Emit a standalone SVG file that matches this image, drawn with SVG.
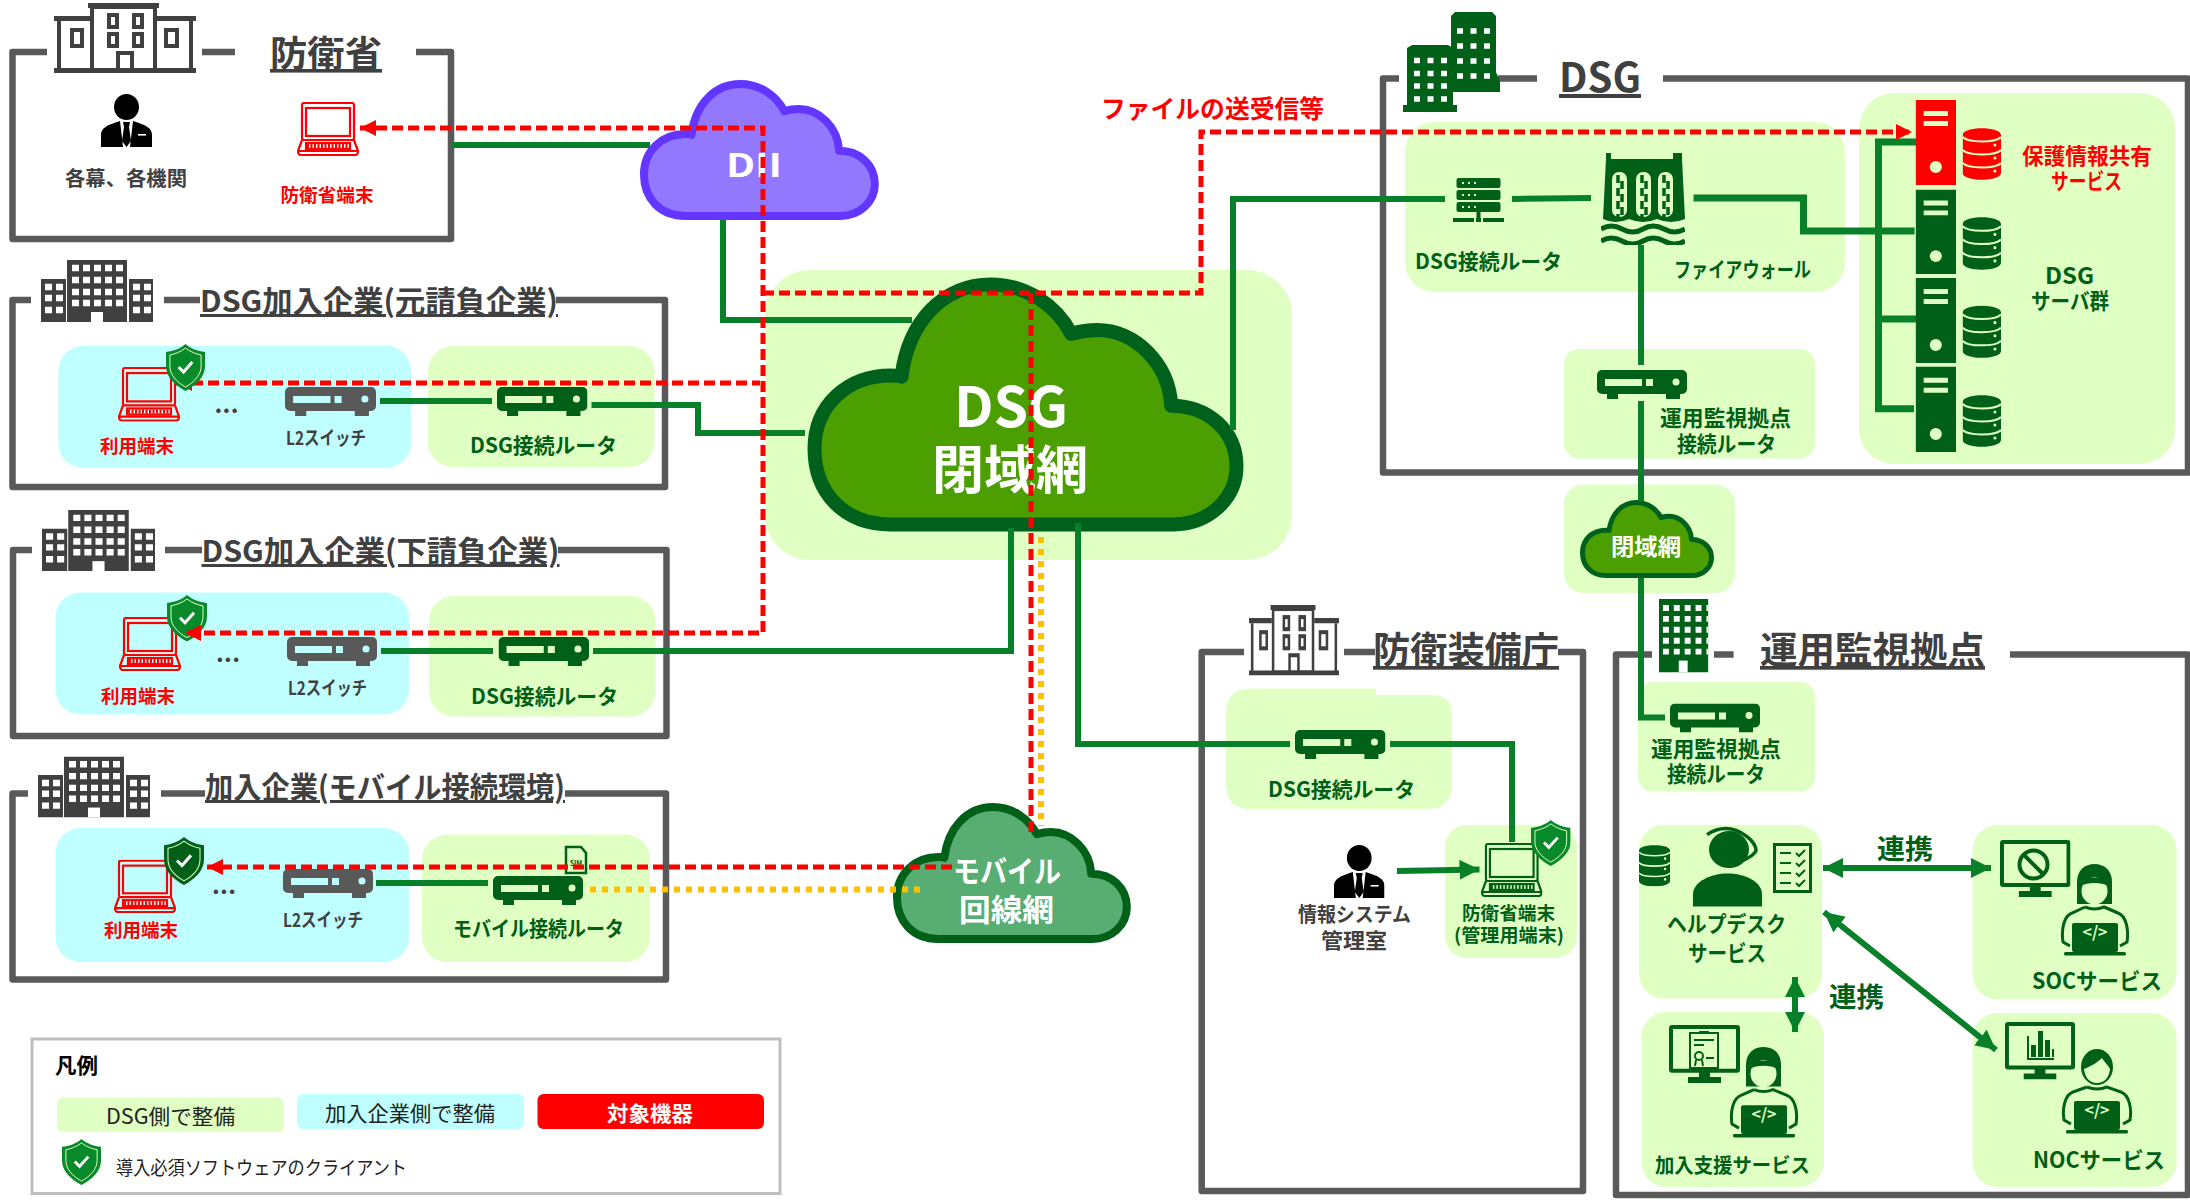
<svg xmlns="http://www.w3.org/2000/svg" width="2190" height="1200" viewBox="0 0 2190 1200">
<style>
text{font-family:"Noto Sans CJK JP","Noto Sans",sans-serif;font-weight:700;text-anchor:middle}
.g{fill:#006018}.r{fill:#f00}.k{fill:#404040}.w{fill:#fff}.n{fill:#222;font-weight:400}.b{fill:#000}
.u{text-decoration:underline;fill:#404040}
.frame{fill:none;stroke:#595959;stroke-width:6.5;stroke-linejoin:round}
.lg{fill:#E0FFC2}.cy{fill:#BFFFFF}
.gl{fill:none;stroke:#08802A;stroke-width:6}
.rd{fill:none;stroke:#f00;stroke-width:5;stroke-dasharray:11 5}
.yd{fill:none;stroke:#FFC000;stroke-width:6;stroke-dasharray:6 6}
.dk{color:#006018}.gy{color:#595959}.rc{color:#f00}.kc{color:#000}
.code{fill:#E0FFC2;font-size:15}
</style>
<defs>
<path id="cloud" vector-effect="non-scaling-stroke" stroke-linejoin="round" d="M19,97C8,97 1.5,84 1.5,67C1.5,50 9,38 19,38C20,38 21,38 21.5,38.5C23,17 31,2 42,2C50,2 57,10 60.5,21.5C62.5,20.5 64.5,20 66.5,20C75,20 83,33 83.5,50C92,50 98.5,60 98.5,74C98.5,87 92,97 84,97Z"/>
<marker id="ar" markerUnits="userSpaceOnUse" markerWidth="16" markerHeight="16" refX="16" refY="8" orient="auto-start-reverse"><path d="M0,0L16,8L0,16Z" fill="#f00"/></marker>
<marker id="ag" markerUnits="userSpaceOnUse" markerWidth="20" markerHeight="20" refX="20" refY="10" orient="auto-start-reverse"><path d="M0,0L20,10L0,20Z" fill="#08802A"/></marker>
<symbol id="router" viewBox="0 0 90 29" preserveAspectRatio="none"><path fill="currentColor" fill-rule="evenodd" d="M5,0H85a5,5 0 0 1 5,5V19a5,5 0 0 1-5,5H83V29H69V24H21V29H10V24H5a5,5 0 0 1-5-5V5a5,5 0 0 1 5-5ZM8,9V16H45V9ZM49,9V16H56V9ZM75.5,12a3.5,3.5 0 0 0 7,0a3.5,3.5 0 0 0-7,0Z"/></symbol>
<symbol id="laptop" viewBox="0 0 62 54" preserveAspectRatio="none"><g fill="none" stroke="currentColor" stroke-width="2.200"><rect x="5" y="1" width="52" height="37" rx="2"/><rect x="9" y="6" width="44" height="28"/><path d="M5,38L1,49Q1,53 4,53H58Q61,53 61,49L57,38"/><path d="M1,49H61"/><rect x="9" y="41" width="44" height="6"/></g><path d="M10,44H52" stroke="currentColor" stroke-width="4" stroke-dasharray="2 1.5"/></symbol>
<symbol id="shield" viewBox="0 0 40 47" preserveAspectRatio="none"><path fill="currentColor" d="M20,0C26,5 32,7 40,8V22C40,33 31,41 20,47C9,41 0,33 0,22V8C8,7 14,5 20,0Z"/><path fill="none" stroke="#E0FFC2" stroke-width="1" d="M20,4C25,8 31,10 36,11V22C36,31 29,38 20,43C11,38 4,31 4,22V11C9,10 15,8 20,4Z"/><path fill="none" stroke="#fff" stroke-width="3" d="M13,23L18,28L27,18"/></symbol>
<symbol id="person" viewBox="0 0 51 53" preserveAspectRatio="none"><ellipse cx="25.5" cy="13" rx="12.5" ry="13" fill="currentColor"/><path fill="currentColor" d="M0,53V41C0,34 6,31 19,27L22,53ZM51,53V41C51,34 45,31 32,27L29,53ZM22,28H29L28,33L30,47L25.5,53L21,47L23,33Z"/><rect x="37" y="40" width="8" height="1.6" fill="#fff"/></symbol>
<symbol id="db" viewBox="0 0 38 52" preserveAspectRatio="none"><path fill="currentColor" d="M0,7C0,-2 38,-2 38,7V45C38,54 0,54 0,45Z"/><path fill="none" stroke="#E0FFC2" stroke-width="2" d="M0,9C5,15 33,15 38,9M0,22C5,28 33,28 38,22M0,35C5,41 33,41 38,35"/><path d="M32,17v.1M32,30v.1M32,43v.1" stroke="#E0FFC2" stroke-width="3" stroke-linecap="round"/></symbol>
<symbol id="server" viewBox="0 0 40 85" preserveAspectRatio="none"><path fill="currentColor" fill-rule="evenodd" d="M0,0H40V85H0ZM8,11V16H32V11ZM8,21V26H32V21ZM14,67a6,6 0 0 0 12,0a6,6 0 0 0-12,0Z"/></symbol>
<symbol id="bldgO" viewBox="0 0 142 70" preserveAspectRatio="none"><g fill="none" stroke="#404040" stroke-width="4"><rect x="38" y="4" width="63" height="63"/><path d="M5,18V67M137,18V67"/><rect x="18" y="27" width="10" height="16"/><rect x="112" y="27" width="11" height="16"/><rect x="55" y="12" width="8" height="12"/><rect x="80" y="12" width="8" height="12"/><rect x="55" y="31" width="8" height="12"/><rect x="80" y="31" width="8" height="12"/><path d="M64,66V50H78V66"/></g><path fill="#404040" d="M0,65H142V70H0ZM34,0H105V5H34ZM0,13H36V18H0ZM103,13H142V18H103Z"/></symbol>
<symbol id="bldgS" viewBox="0 0 112 62" preserveAspectRatio="none"><path fill="#404040" d="M26,0H86V62H26ZM0,19H25V62H0ZM88,19H112V62H88Z"/><path stroke="#fff" stroke-width="6.5" stroke-dasharray="7 4" d="M31,8H86M31,20H86M31,32H86M31,43H86M4,27H25M4,38H25M4,50H25M92,27H112M92,38H112M92,50H112"/><rect x="50" y="52" width="12" height="10" fill="#fff"/></symbol>
<symbol id="towers" viewBox="0 0 97 100" preserveAspectRatio="none"><path fill="#006018" d="M48,4L52,0H89L93,4V60L97,70V80H48Z"/><path fill="#fff" d="M46,33H54V100H46Z" opacity="0"/><path fill="#006018" d="M4,36L9,33H45L50,36V93H54V100H0V93H4Z"/><path fill="none" stroke="#fff" stroke-width="5.500" stroke-dasharray="6 7.500" d="M54,19H92M54,34H92M54,49H92M54,64H92M11,48.500H46M11,61.500H46M11,74H46M11,87H46"/></symbol>
<symbol id="tower" viewBox="0 0 50 74" preserveAspectRatio="none"><rect width="50" height="74" fill="#006018"/><path stroke="#fff" stroke-width="6" stroke-dasharray="6 5" d="M4,9H50M4,20H50M4,31H50M4,42H50M4,53H50"/><rect x="20" y="62" width="9" height="12" fill="#fff"/></symbol>
<symbol id="fw" viewBox="0 0 84 92" preserveAspectRatio="none"><path fill="#006018" d="M2,66L5,6V0H10V6H72V0H81V6L84,66Q70,72 56,66Q42,72 28,66Q14,72 2,66Z"/><g fill="#E0FFC2"><rect x="11" y="19" width="15" height="45" rx="7"/><rect x="35" y="19" width="15" height="45" rx="7"/><rect x="57" y="19" width="15" height="45" rx="7"/></g><path stroke="#006018" stroke-width="3.5" stroke-dasharray="8 5" d="M17,22V64M21,28V64M41,22V64M45,28V64M63,22V64M67,28V64"/><path fill="none" stroke="#006018" stroke-width="5" d="M0,76Q10,70 21,76T42,76T63,76T84,76M0,88Q10,82 21,88T42,88T63,88T84,88"/></symbol>
<symbol id="rack" viewBox="0 0 51 44" preserveAspectRatio="none"><g fill="#006018"><rect x="3.5" y="0" width="44" height="10" rx="2"/><rect x="3.5" y="12" width="44" height="10" rx="2"/><rect x="3.5" y="24" width="44" height="10" rx="2"/><rect x="23.500" y="34" width="4" height="7"/><rect x="0" y="40" width="21" height="4"/><rect x="30" y="40" width="21" height="4"/><rect x="23" y="40" width="5" height="4"/></g><path stroke="#E0FFC2" stroke-width="2" stroke-dasharray="2 4" d="M9,5H24M9,17H24M9,29H24"/></symbol>
<symbol id="monitor" viewBox="0 0 71 57" preserveAspectRatio="none"><rect x="2" y="2" width="67" height="43" rx="1" fill="none" stroke="#006018" stroke-width="4"/><path fill="#006018" d="M30,46H41V51H52V57H19V51H30Z"/></symbol>
<symbol id="coderF" viewBox="0 0 70 92" preserveAspectRatio="none"><path fill="#006018" d="M17,40V18C17,6 25,0 34.500,0C44,0 52,6 52,18V40Z"/><ellipse cx="34.500" cy="27" rx="13" ry="13.500" fill="#E0FFC2"/><path fill="#006018" d="M21,22C27,18 42,18 48,22V14H21Z"/><path fill="none" stroke="#006018" stroke-width="3" d="M25,43Q34.500,47 44,43L58,49C66,52 69,65 67,78L60,82M25,43L12,49C4,52 1,65 3,78L10,82"/><rect x="12" y="59" width="46" height="29" rx="2" fill="#006018"/><rect x="4" y="88" width="62" height="3.500" rx="1.500" fill="#006018"/></symbol>
<symbol id="coderM" viewBox="0 0 72 89" preserveAspectRatio="none"><ellipse cx="36" cy="22" rx="16" ry="18" fill="#006018"/><path fill="#E0FFC2" d="M23,24C28,22 36,18 41,13C44,18 47,20 49,24C48,33 43,38 36,38C29,38 24,33 23,24Z"/><path fill="none" stroke="#006018" stroke-width="3" d="M26,42Q36,46 46,42L60,47C68,50 71,63 69,75L62,79M26,42L12,47C4,50 1,63 3,75L10,79"/><rect x="13" y="56" width="46" height="29" rx="2" fill="#006018"/><rect x="5" y="85" width="62" height="3.500" rx="1.500" fill="#006018"/></symbol>
</defs>

<rect width="2190" height="1200" fill="#fff"/>

<g id="n-mod">
<path class="frame" d="M47,52H12.500V239H451V52H416M202,52H235"/>
<use href="#bldgO" x="54" y="3" width="142" height="70"/>
<text class="u" x="326" y="67" font-size="36" textLength="112" lengthAdjust="spacingAndGlyphs">防衛省</text>
<use href="#person" class="kc" x="101" y="94" width="51" height="53"/>
<text class="k" x="126" y="186" font-size="20" textLength="122" lengthAdjust="spacingAndGlyphs">各幕、各機関</text>
<use href="#laptop" class="rc" x="297" y="102" width="62" height="54"/>
<text class="r" x="327" y="202" font-size="18.500" textLength="93" lengthAdjust="spacingAndGlyphs">防衛省端末</text>
</g>

<g id="n-prime">
<path class="frame" d="M31,300H12.500V487H665V300H556M164,300H200"/>
<use href="#bldgS" x="41" y="260" width="112" height="62"/>
<text class="u" x="379" y="312" font-size="30" textLength="358" lengthAdjust="spacingAndGlyphs">DSG加入企業(元請負企業)</text>
<rect class="cy" x="58.500" y="345.700" width="352.500" height="122.300" rx="25"/>
<rect class="lg" x="428" y="346" width="226.500" height="121" rx="25"/>
<use href="#laptop" class="rc" x="118" y="367" width="62" height="54.600"/>
<text class="k" x="226.500" y="413" font-size="24" textLength="24" lengthAdjust="spacing">...</text>
<use href="#router" class="gy" x="285" y="387" width="91" height="29"/>
<use href="#router" class="dk" x="497" y="387" width="90.500" height="29"/>
<text class="r" x="137" y="453" font-size="18.500" textLength="74" lengthAdjust="spacingAndGlyphs">利用端末</text>
<text class="k" x="326" y="445" font-size="19" textLength="80" lengthAdjust="spacingAndGlyphs">L2スイッチ</text>
<text class="g" x="543.500" y="453" font-size="21" textLength="147" lengthAdjust="spacingAndGlyphs">DSG接続ルータ</text>
</g>

<g id="n-sub">
<path class="frame" d="M32,550H13V736H666.500V550H558M165,550H202"/>
<use href="#bldgS" x="42" y="510" width="113" height="61"/>
<text class="u" x="380.500" y="562" font-size="30" textLength="358" lengthAdjust="spacingAndGlyphs">DSG加入企業(下請負企業)</text>
<rect class="cy" x="55.500" y="592.500" width="353.500" height="122" rx="25"/>
<rect class="lg" x="429" y="596" width="226.500" height="120.500" rx="25"/>
<use href="#laptop" class="rc" x="119" y="617" width="62" height="54"/>
<use href="#shield" color="#088A2B" x="167" y="595" width="40" height="46.600"/>
<text class="k" x="228" y="662" font-size="24" textLength="24" lengthAdjust="spacing">...</text>
<use href="#router" class="gy" x="287" y="637" width="90" height="29"/>
<use href="#router" class="dk" x="498.500" y="637" width="90.500" height="29"/>
<text class="r" x="138" y="703" font-size="18.500" textLength="74" lengthAdjust="spacingAndGlyphs">利用端末</text>
<text class="k" x="327.500" y="695" font-size="19" textLength="79" lengthAdjust="spacingAndGlyphs">L2スイッチ</text>
<text class="g" x="544.500" y="704" font-size="21" textLength="147" lengthAdjust="spacingAndGlyphs">DSG接続ルータ</text>
</g>

<g id="n-mobile-co">
<path class="frame" d="M28,793.600H12.500V979.500H666V793.600H565M161,793.600H205"/>
<use href="#bldgS" x="38" y="756.400" width="112" height="61"/>
<text class="u" x="385" y="798" font-size="30" textLength="360" lengthAdjust="spacingAndGlyphs">加入企業(モバイル接続環境)</text>
<rect class="cy" x="55.500" y="828" width="353.500" height="134" rx="25"/>
<rect class="lg" x="422" y="834.500" width="228" height="127.500" rx="25"/>
<use href="#laptop" class="rc" x="114" y="859.700" width="62" height="53.300"/>
<use href="#shield" class="dk" x="164" y="837" width="40" height="48"/>
<text class="k" x="224" y="894" font-size="24" textLength="24" lengthAdjust="spacing">...</text>
<use href="#router" class="gy" x="283" y="869" width="90" height="29"/>
<use href="#router" class="dk" x="493" y="876" width="90" height="29"/>
<path d="M566,847H581L586,853V873H566Z" fill="none" stroke="#006018" stroke-width="2.500"/>
<text class="g" x="576" y="866" font-size="7" font-weight="400">SIM</text>
<text class="r" x="141" y="937" font-size="18.500" textLength="74" lengthAdjust="spacingAndGlyphs">利用端末</text>
<text class="k" x="323" y="927" font-size="19" textLength="80" lengthAdjust="spacingAndGlyphs">L2スイッチ</text>
<text class="g" x="538.500" y="936" font-size="21" textLength="171" lengthAdjust="spacingAndGlyphs">モバイル接続ルータ</text>
</g>

<g id="n-legend">
<rect x="32" y="1039" width="748" height="154.500" fill="none" stroke="#BFBFBF" stroke-width="3"/>
<text class="b" x="76.500" y="1073" font-size="21" textLength="43" lengthAdjust="spacingAndGlyphs">凡例</text>
<rect class="lg" x="57" y="1097.500" width="227" height="34.500" rx="6"/>
<text class="n" x="170.500" y="1124" font-size="21" textLength="129" lengthAdjust="spacingAndGlyphs">DSG側で整備</text>
<rect class="cy" x="297" y="1094" width="227" height="35" rx="6"/>
<text class="n" x="410" y="1121" font-size="21" textLength="170" lengthAdjust="spacingAndGlyphs">加入企業側で整備</text>
<rect class="r" x="537.500" y="1094" width="226.500" height="35" rx="6"/>
<text class="w" x="650" y="1121" font-size="21" textLength="86" lengthAdjust="spacingAndGlyphs">対象機器</text>
<use href="#shield" color="#088A2B" x="62" y="1139" width="39" height="46"/>
<text class="n" x="261.500" y="1175" font-size="19" textLength="291" lengthAdjust="spacingAndGlyphs">導入必須ソフトウェアのクライアント</text>
</g>

<g id="n-dii">
<use href="#cloud" transform="translate(640.400,81.200) scale(2.38,1.39)" fill="#9278FF" stroke="#6236FF" stroke-width="8"/>
<text class="w" x="754" y="177" font-size="32" textLength="56" lengthAdjust="spacingAndGlyphs">DII</text>
</g>

<g id="n-dsgnet">
<rect class="lg" x="765" y="270" width="527" height="290" rx="45"/>
<use href="#cloud" transform="translate(808,279.400) scale(4.35,2.526)" fill="#4C9F00" stroke="#00611C" stroke-width="14"/>
<text class="w" x="1011" y="427" font-size="56" textLength="114" lengthAdjust="spacingAndGlyphs">DSG</text>
<text class="w" x="1010" y="489" font-size="52" textLength="156" lengthAdjust="spacingAndGlyphs">閉域網</text>
</g>

<g id="n-dsg">
<path class="frame" d="M1399,78.500H1383V472.600H2188V78.500H1663M1498,78.500H1537"/>
<use href="#towers" x="1403" y="12" width="97" height="100"/>
<text class="u" x="1600" y="92" font-size="40" textLength="82" lengthAdjust="spacingAndGlyphs">DSG</text>
<rect class="lg" x="1405" y="122" width="440" height="170" rx="30"/>
<use href="#rack" x="1453" y="178" width="51" height="44"/>
<use href="#fw" x="1601" y="153" width="84" height="92"/>
<text class="g" x="1488.500" y="269" font-size="21" textLength="147" lengthAdjust="spacingAndGlyphs">DSG接続ルータ</text>
<text class="g" x="1742.500" y="277" font-size="21" textLength="137" lengthAdjust="spacingAndGlyphs">ファイアウォール</text>
<rect class="lg" x="1564" y="349" width="251" height="109.500" rx="15"/>
<use href="#router" class="dk" x="1597" y="370" width="90" height="29"/>
<text class="g" x="1725.500" y="426" font-size="21.500" textLength="131" lengthAdjust="spacingAndGlyphs">運用監視拠点</text>
<text class="g" x="1726.500" y="452" font-size="21.500" textLength="99" lengthAdjust="spacingAndGlyphs">接続ルータ</text>
<rect class="lg" x="1859" y="93" width="316" height="371" rx="35"/>
<use href="#server" class="rc" x="1915.600" y="100" width="40.400" height="85"/>
<use href="#server" class="dk" x="1915.600" y="189.500" width="40.400" height="84.500"/>
<use href="#server" class="dk" x="1915.600" y="278" width="40.400" height="85"/>
<use href="#server" class="dk" x="1915.600" y="366.600" width="40.400" height="85.400"/>
<use href="#db" class="rc" x="1962.600" y="128" width="38.400" height="52"/>
<use href="#db" class="dk" x="1962.600" y="217" width="38.400" height="53"/>
<use href="#db" class="dk" x="1962.600" y="305.400" width="38.400" height="52.600"/>
<use href="#db" class="dk" x="1962.600" y="395" width="38.400" height="52"/>
<text class="r" x="2087" y="164" font-size="21.500" textLength="130" lengthAdjust="spacingAndGlyphs">保護情報共有</text>
<text class="r" x="2086.500" y="189" font-size="21.500" textLength="71" lengthAdjust="spacingAndGlyphs">サービス</text>
<text class="g" x="2069.500" y="284" font-size="23" textLength="49" lengthAdjust="spacingAndGlyphs">DSG</text>
<text class="g" x="2070" y="309" font-size="21.500" textLength="78" lengthAdjust="spacingAndGlyphs">サーバ群</text>
</g>

<g id="n-closed">
<rect class="lg" x="1564" y="484.500" width="171" height="108.500" rx="20"/>
<use href="#cloud" transform="translate(1580.500,501) scale(1.33,.768)" fill="#4C9F00" stroke="#00611C" stroke-width="5"/>
<text class="w" x="1646" y="555" font-size="23" textLength="70" lengthAdjust="spacingAndGlyphs">閉域網</text>
</g>

<g id="n-mobile-net">
<use href="#cloud" transform="translate(893.400,804.200) scale(2.37,1.39)" fill="#58AD72" stroke="#006018" stroke-width="8"/>
<text class="w" x="1007" y="882" font-size="30" textLength="108" lengthAdjust="spacingAndGlyphs">モバイル</text>
<text class="w" x="1006.500" y="921" font-size="31" textLength="95" lengthAdjust="spacingAndGlyphs">回線網</text>
</g>

<g id="n-atla">
<path class="frame" d="M1244,652H1201.700V1191H1583V652H1558M1344,652H1375"/>
<use href="#bldgO" x="1249" y="605" width="90" height="70.500"/>
<text class="u" x="1466" y="664" font-size="37" textLength="186" lengthAdjust="spacingAndGlyphs">防衛装備庁</text>
<path class="lg" d="M1251,688.600H1376V695H1432Q1452,695 1452,715V784Q1452,809 1427,809H1251Q1226,809 1226,784V713.600Q1226,688.600 1251,688.600Z"/>
<use href="#router" class="dk" x="1295" y="730" width="90.500" height="29"/>
<text class="g" x="1341.500" y="797" font-size="21" textLength="147" lengthAdjust="spacingAndGlyphs">DSG接続ルータ</text>
<rect class="lg" x="1445" y="825" width="132" height="133" rx="22"/>
<use href="#laptop" class="dk" x="1481" y="843" width="61.500" height="54"/>
<use href="#shield" color="#088A2B" x="1531" y="820" width="39.600" height="46"/>
<use href="#person" class="kc" x="1334" y="845" width="50.500" height="53"/>
<text class="k" x="1354.500" y="922" font-size="20" textLength="113" lengthAdjust="spacingAndGlyphs">情報システム</text>
<text class="k" x="1354" y="948" font-size="21" textLength="66" lengthAdjust="spacingAndGlyphs">管理室</text>
<text class="g" x="1508.500" y="920" font-size="18.500" textLength="93" lengthAdjust="spacingAndGlyphs">防衛省端末</text>
<text class="g" x="1509" y="942" font-size="18.500" textLength="110" lengthAdjust="spacingAndGlyphs">(管理用端末)</text>
</g>

<g id="n-ops">
<path class="frame" d="M1652,654.600H1616V1195H2188V654.600H2010M1714,654.600H1733.600"/>
<use href="#tower" x="1659" y="599" width="49.400" height="73.500"/>
<text class="u" x="1872.500" y="664" font-size="37" textLength="225" lengthAdjust="spacingAndGlyphs">運用監視拠点</text>
<rect class="lg" x="1638" y="682" width="177" height="109.600" rx="15"/>
<use href="#router" class="dk" x="1670" y="703.600" width="90" height="28.800"/>
<text class="g" x="1716" y="757" font-size="21.500" textLength="130" lengthAdjust="spacingAndGlyphs">運用監視拠点</text>
<text class="g" x="1716" y="782" font-size="21.500" textLength="98" lengthAdjust="spacingAndGlyphs">接続ルータ</text>
</g>

<g id="n-help">
<rect class="lg" x="1639" y="825" width="183" height="173.600" rx="25"/>
<use href="#db" class="dk" x="1639" y="845" width="31" height="41.500"/>
<g transform="translate(1693,826.600)"><ellipse cx="36" cy="23" rx="20" ry="18.500" fill="#006018"/><path fill="#006018" d="M0,80V68C0,55 18,47 34.500,47C52,47 69,55 69,68V80Z"/><path fill="none" stroke="#006018" stroke-width="3.500" d="M14,8Q34,-5 54,10Q63,17 63,24Q60,31 39,38"/></g>
<g transform="translate(1773,843)"><rect x="1.500" y="1.500" width="36" height="47" fill="none" stroke="#006018" stroke-width="3"/><path fill="none" stroke="#006018" stroke-width="2" d="M7,10H18M7,20H18M7,30H18M7,40H18M23,10L26,13L32,7M23,20L26,23L32,17M23,30L26,33L32,27M23,40L26,43L32,37"/></g>
<text class="g" x="1726.500" y="932" font-size="22" textLength="119" lengthAdjust="spacingAndGlyphs">ヘルプデスク</text>
<text class="g" x="1727" y="961" font-size="22" textLength="78" lengthAdjust="spacingAndGlyphs">サービス</text>
</g>

<g id="n-soc">
<rect class="lg" x="1972.600" y="825" width="204" height="174.300" rx="25"/>
<use href="#monitor" x="2000" y="840" width="70.500" height="57"/>
<circle cx="2033.500" cy="864.500" r="14" fill="none" stroke="#006018" stroke-width="4"/><path d="M2023.500,854.500L2043.500,874.500" stroke="#006018" stroke-width="4"/>
<use href="#coderF" x="2060" y="864" width="70" height="92"/>
<text class="code" x="2095" y="938">&lt;/&gt;</text>
<text class="g" x="2097" y="989" font-size="22" textLength="130" lengthAdjust="spacingAndGlyphs">SOCサービス</text>
</g>

<g id="n-join">
<rect class="lg" x="1641.400" y="1012" width="182.600" height="175" rx="25"/>
<use href="#monitor" x="1669" y="1025" width="71" height="58"/>
<g fill="none" stroke="#006018" stroke-width="2"><rect x="1690" y="1033" width="28" height="35"/><path d="M1694,1040H1714M1694,1045H1704M1706,1058H1714"/><circle cx="1699" cy="1056" r="4"/><path d="M1696,1060L1695,1066M1702,1060L1703,1066"/></g><rect x="1699" y="1031" width="10" height="3" fill="#006018"/>
<use href="#coderF" x="1729" y="1047" width="70" height="91"/>
<text class="code" x="1764" y="1120">&lt;/&gt;</text>
<text class="g" x="1732.500" y="1173" font-size="20.500" textLength="155" lengthAdjust="spacingAndGlyphs">加入支援サービス</text>
</g>

<g id="n-noc">
<rect class="lg" x="1972.600" y="1013" width="204" height="174" rx="25"/>
<use href="#monitor" x="2005" y="1022" width="70" height="57.500"/>
<path fill="#006018" d="M2027,1060V1036H2029V1058H2054V1060ZM2031,1057V1045H2036V1057ZM2038,1057V1031H2043V1057ZM2045,1057V1040H2050V1057ZM2052,1057V1049H2054V1057Z"/>
<use href="#coderM" x="2061" y="1045" width="72" height="89"/>
<text class="code" x="2097" y="1116">&lt;/&gt;</text>
<text class="g" x="2099" y="1168" font-size="22" textLength="132" lengthAdjust="spacingAndGlyphs">NOCサービス</text>
</g>

<g id="labels">
<text class="r" x="1212.500" y="118" font-size="25" textLength="223" lengthAdjust="spacingAndGlyphs">ファイルの送受信等</text>
<text class="g" x="1905" y="859" font-size="27" textLength="56" lengthAdjust="spacingAndGlyphs">連携</text>
<text class="g" x="1856.500" y="1007" font-size="27" textLength="55" lengthAdjust="spacingAndGlyphs">連携</text>
</g>

<g id="connectors">
<path class="gl" d="M451,145H650"/>
<path class="gl" d="M723,220V320H912"/>
<path class="gl" d="M591.500,405H698V433H805"/>
<path class="gl" d="M380,401H492"/>
<path class="gl" d="M381,651H493"/>
<path class="gl" d="M593,651H1011V528"/>
<path class="gl" d="M376,883H488"/>
<path class="gl" d="M1078,523V744H1290"/>
<path class="gl" d="M1390,744H1512V842"/>
<path class="gl" d="M1397,871L1479.500,869.500" marker-end="url(#ag)"/>
<path class="gl" d="M1233,430V199H1445"/>
<path class="gl" d="M1512,199L1591,198"/>
<path class="gl" style="stroke-width:7" d="M1693.500,198H1803.500V231H1914.600"/>
<path class="gl" style="stroke-width:7" d="M1916,142H1878.500V408.700H1914M1878.500,319H1916"/>
<path class="gl" d="M1641,245V365"/>
<path class="gl" d="M1641,401V501"/>
<path class="gl" d="M1641,578V717.600H1665"/>
<path class="gl" d="M1823,868H1991" marker-start="url(#ag)" marker-end="url(#ag)"/>
<path class="gl" d="M1795,977V1032" marker-start="url(#ag)" marker-end="url(#ag)"/>
<path class="gl" d="M1824,912L1996,1050" marker-start="url(#ag)" marker-end="url(#ag)"/>
<path class="yd" d="M1041,537V826"/>
<path class="yd" d="M590,889.500H921"/>
<path class="rd" d="M360,128H763V633H185" marker-start="url(#ar)" marker-end="url(#ar)"/>
<path class="rd" d="M176,383H760" marker-start="url(#ar)"/>
<path class="rd" d="M763,293H1201V132H1912" marker-end="url(#ar)"/>
<path class="rd" d="M1031,293V837"/>
<path class="rd" d="M952,867H207" marker-end="url(#ar)"/>
</g>

<g id="n-prime-shield">
<use href="#shield" color="#088A2B" x="166" y="344" width="39" height="47"/>
</g>
</svg>
